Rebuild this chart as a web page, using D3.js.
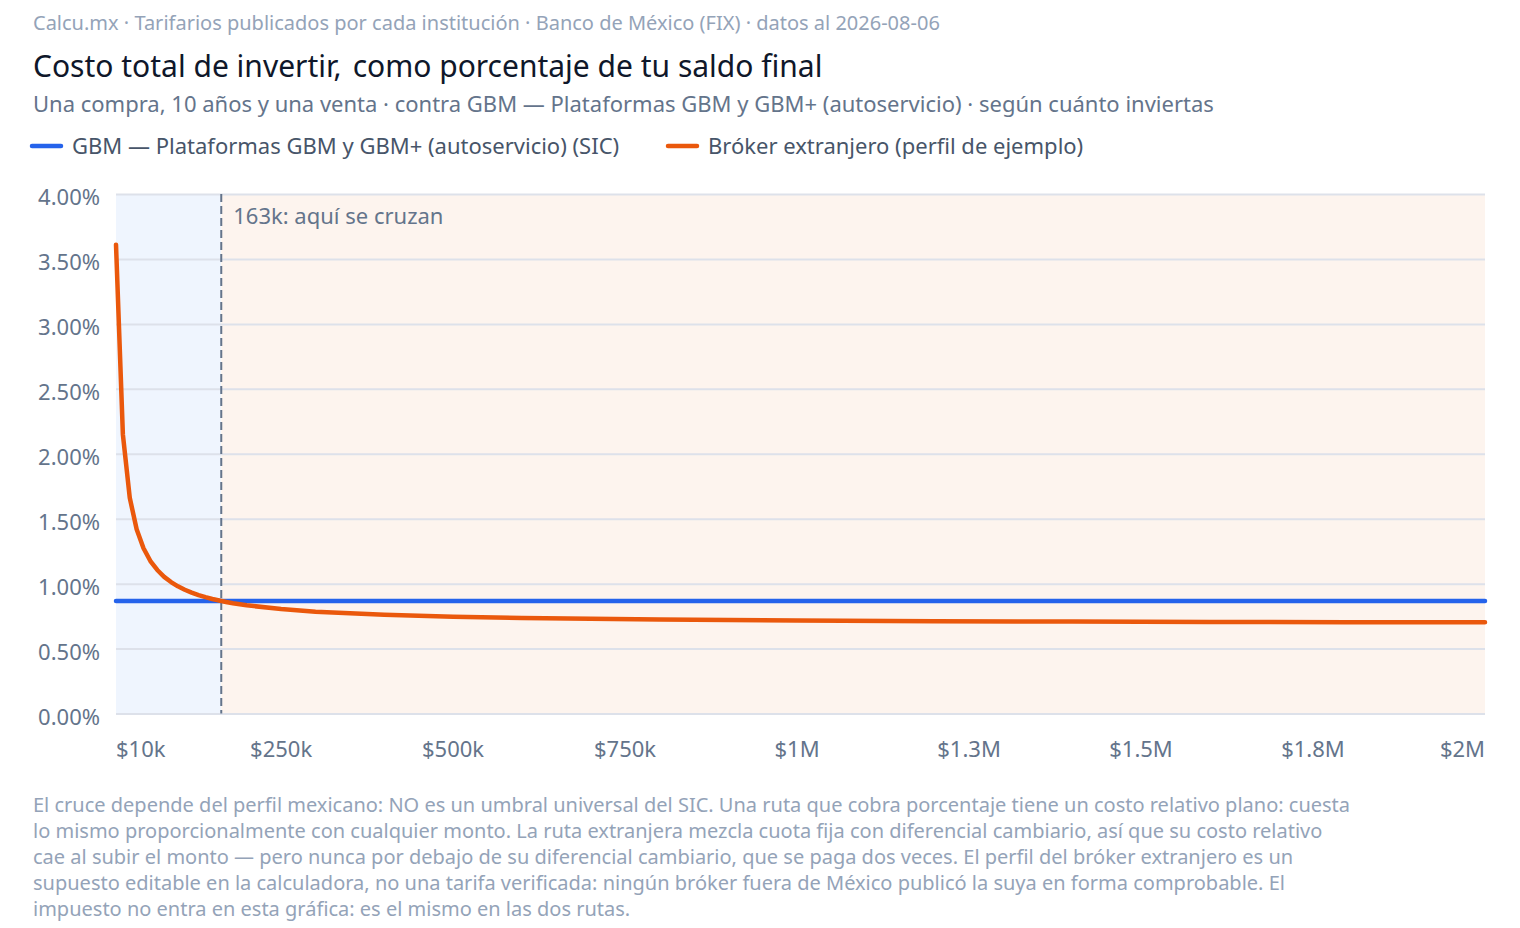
<!DOCTYPE html>
<html>
<head>
<meta charset="utf-8">
<script src="https://cdn.jsdelivr.net/npm/d3@7"></script>
<style>
  html, body { margin: 0; padding: 0; background: #fff; }
  svg { display: block; font-family: 'Noto Sans', sans-serif; }
</style>
</head>
<body>
<div id="chart"></div>
<script>
// monto invertido (MXN) y costo total como % del saldo final
const amounts = [10000, 20000, 30000, 40000, 50000, 60000, 70000, 80000, 90000, 100000,
  110000, 120000, 130000, 140000, 150000, 160000, 170000, 180000, 190000, 200000,
  250000, 300000, 350000, 400000, 500000, 600000, 700000, 800000, 900000, 1000000,
  1200000, 1400000, 1600000, 1800000, 2000000];
const foreignCost = [3.610, 2.149, 1.661, 1.418, 1.272, 1.174, 1.105, 1.052, 1.012, 0.979,
  0.953, 0.931, 0.912, 0.896, 0.882, 0.870, 0.859, 0.849, 0.841, 0.833,
  0.804, 0.784, 0.771, 0.760, 0.745, 0.736, 0.729, 0.724, 0.719, 0.716,
  0.711, 0.708, 0.705, 0.703, 0.702];
const gbmCost = 0.866;
const crossover = 163000;

const xTicks = [10000, 250000, 500000, 750000, 1000000, 1250000, 1500000, 1750000, 2000000];
const xTickLabels = ['$10k', '$250k', '$500k', '$750k', '$1M', '$1.3M', '$1.5M', '$1.8M', '$2M'];
const yTicks = [0, 0.5, 1, 1.5, 2, 2.5, 3, 3.5, 4];

const series = [
  { key: 'gbm', label: 'GBM — Plataformas GBM y GBM+ (autoservicio) (SIC)', color: '#2563eb' },
  { key: 'foreign', label: 'Bróker extranjero (perfil de ejemplo)', color: '#ea580c' },
];

const footnote = [
  'El cruce depende del perfil mexicano: NO es un umbral universal del SIC. Una ruta que cobra porcentaje tiene un costo relativo plano: cuesta',
  'lo mismo proporcionalmente con cualquier monto. La ruta extranjera mezcla cuota fija con diferencial cambiario, así que su costo relativo',
  'cae al subir el monto — pero nunca por debajo de su diferencial cambiario, que se paga dos veces. El perfil del bróker extranjero es un',
  'supuesto editable en la calculadora, no una tarifa verificada: ningún bróker fuera de México publicó la suya en forma comprobable. El',
  'impuesto no entra en esta gráfica: es el mismo en las dos rutas.',
];

const W = 1520, H = 928;
const margin = { top: 194, right: 35, bottom: 214.5, left: 116 };
const width = W - margin.left - margin.right;
const height = H - margin.top - margin.bottom;

const root = d3.select('#chart').append('svg').attr('width', W).attr('height', H);

// header texts
root.append('text').attr('x', 33).attr('y', 30)
  .attr('fill', '#94a3b8').attr('font-size', '20px')
  .text('Calcu.mx · Tarifarios publicados por cada institución · Banco de México (FIX) · datos al 2026-08-06');
const title = root.append('text').attr('x', 33).attr('y', 77)
  .attr('fill', '#0f172a').attr('font-size', '30px');
title.append('tspan').text('Costo total de invertir,');
title.append('tspan').attr('dx', 11).text('como porcentaje de tu saldo final');
root.append('text').attr('x', 33).attr('y', 112)
  .attr('fill', '#64748b').attr('font-size', '22px')
  .text('Una compra, 10 años y una venta · contra GBM — Plataformas GBM y GBM+ (autoservicio) · según cuánto inviertas');

// legend
const legendX = [32, 668];
const legend = root.selectAll('.legend').data(series).join('g').attr('class', 'legend')
  .attr('transform', (d, i) => `translate(${legendX[i]},146)`);
legend.append('line').attr('x1', 0).attr('x2', 29).attr('y1', 0).attr('y2', 0)
  .attr('stroke', d => d.color).attr('stroke-width', 4.5).attr('stroke-linecap', 'round');
legend.append('text').attr('x', 40).attr('y', 8)
  .attr('fill', '#475569').attr('font-size', '22px').text(d => d.label);

const svg = root.append('g').attr('transform', `translate(${margin.left},${margin.top})`);

const x = d3.scaleLinear().domain([10000, 2000000]).range([0, width]);
const y = d3.scaleLinear().domain([0, 4]).range([height, 0]);

// background zones
svg.append('rect').attr('x', 0).attr('y', 0).attr('width', x(crossover)).attr('height', height)
  .attr('fill', '#eff5fe');
svg.append('rect').attr('x', x(crossover)).attr('y', 0).attr('width', width - x(crossover)).attr('height', height)
  .attr('fill', '#fdf4ee');

// grid
svg.append('g')
  .call(d3.axisLeft(y).tickValues(yTicks).tickSize(-width).tickFormat(''))
  .call(g => g.select('.domain').remove())
  .call(g => g.selectAll('.tick line').attr('stroke', '#dde1ea').attr('stroke-width', 2));

// y labels
svg.selectAll('.y-label').data(yTicks).join('text').attr('class', 'y-label')
  .attr('x', -16).attr('y', d => y(d) + 11).attr('text-anchor', 'end')
  .attr('fill', '#64748b').attr('font-size', '22px')
  .text(d => d.toFixed(2) + '%');

// x labels
svg.selectAll('.x-label').data(xTicks).join('text').attr('class', 'x-label')
  .attr('x', d => x(d)).attr('y', height + 43)
  .attr('text-anchor', (d, i) => i === 0 ? 'start' : i === xTicks.length - 1 ? 'end' : 'middle')
  .attr('fill', '#64748b').attr('font-size', '22px')
  .text((d, i) => xTickLabels[i]);

// crossover marker
svg.append('line').attr('x1', x(crossover)).attr('x2', x(crossover)).attr('y1', 0).attr('y2', height)
  .attr('stroke', '#64748b').attr('stroke-width', 2).attr('stroke-dasharray', '8,4');
svg.append('text').attr('x', x(crossover) + 12).attr('y', 30)
  .attr('fill', '#64748b').attr('font-size', '22px').text('163k: aquí se cruzan');

// lines
svg.append('line').attr('x1', x(amounts[0])).attr('x2', x(amounts[amounts.length - 1]))
  .attr('y1', y(gbmCost)).attr('y2', y(gbmCost))
  .attr('stroke', series[0].color).attr('stroke-width', 4.5).attr('stroke-linecap', 'round');

const line = d3.line().x(d => x(d[0])).y(d => y(d[1]));
svg.append('path').datum(d3.zip(amounts, foreignCost))
  .attr('d', line).attr('fill', 'none')
  .attr('stroke', series[1].color).attr('stroke-width', 4.5)
  .attr('stroke-linecap', 'round').attr('stroke-linejoin', 'round');

// footnote
root.append('text').attr('fill', '#94a3b8').attr('font-size', '20px')
  .selectAll('tspan').data(footnote).join('tspan')
  .attr('x', 33).attr('y', (d, i) => 812 + i * 26).text(d => d);
</script>
</body>
</html>
